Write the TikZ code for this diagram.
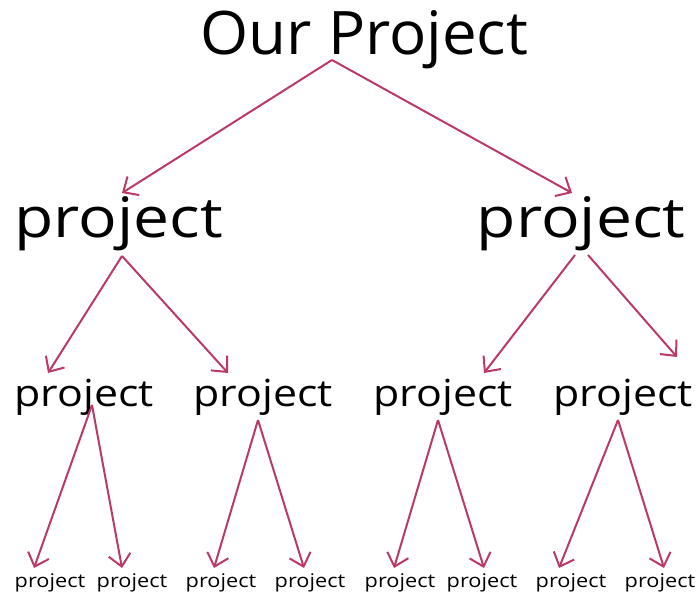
\documentclass[tikz,border=0pt]{standalone}
\usepackage{fontspec}
\setmainfont{Open Sans}[FakeStretch=1.15]
\newfontfamily\rootfont{Open Sans}[FakeStretch=1.03]
\usepackage{tikz}
\usetikzlibrary{arrows.meta}

\definecolor{arrowred}{RGB}{187,57,103}

\begin{document}
\begin{tikzpicture}[x=1pt, y=-1pt,
    arr/.style={draw=arrowred, line width=2pt, -{Straight Barb[length=12pt,width=22pt]}},
    every node/.style={anchor=base, inner sep=0pt}]
  \useasboundingbox (0,0) rectangle (699,593);
  % Nodes
  \node[font=\rootfont\fontsize{60}{66}\selectfont] (root) at (364.5,55) {Our Project};
  \node[font=\fontsize{55.8}{60}\selectfont] (pa) at (118.5,238) {project};
  \node[font=\fontsize{55.8}{60}\selectfont] (pb) at (581,238) {project};
  \node[font=\fontsize{37.3}{40}\selectfont] (paa) at (84,407) {project};
  \node[font=\fontsize{37.3}{40}\selectfont] (pab) at (263,407) {project};
  \node[font=\fontsize{37.3}{40}\selectfont] (pba) at (443,407) {project};
  \node[font=\fontsize{37.3}{40}\selectfont] (pbb) at (623,407) {project};
  \node[font=\fontsize{18.9}{20}\selectfont] (leafa) at (50,587) {project};
  \node[font=\fontsize{18.9}{20}\selectfont] (leafb) at (132,587) {project};
  \node[font=\fontsize{18.9}{20}\selectfont] (leafc) at (221,587) {project};
  \node[font=\fontsize{18.9}{20}\selectfont] (leafd) at (310,587) {project};
  \node[font=\fontsize{18.9}{20}\selectfont] (leafe) at (400,587) {project};
  \node[font=\fontsize{18.9}{20}\selectfont] (leaff) at (482,587) {project};
  \node[font=\fontsize{18.9}{20}\selectfont] (leafg) at (571,587) {project};
  \node[font=\fontsize{18.9}{20}\selectfont] (leafh) at (660,587) {project};

  % Arrows
  \draw[arr] ([xshift=-32.5pt,yshift=-5pt]root.base) -- ([xshift=3.5pt,yshift=45pt]pa.base);
  \draw[arr] ([xshift=-32.5pt,yshift=-5pt]root.base) -- ([xshift=-9pt,yshift=45pt]pb.base);
  \draw[arr] ([xshift=3.5pt,yshift=-18pt]pa.base) -- ([xshift=-36pt,yshift=34pt]paa.base);
  \draw[arr] ([xshift=3.5pt,yshift=-18pt]pa.base) -- ([xshift=-35pt,yshift=34pt]pab.base);
  \draw[arr] ([xshift=-6pt,yshift=-17pt]pb.base) -- ([xshift=41pt,yshift=34pt]pba.base);
  \draw[arr] ([xshift=7pt,yshift=-17pt]pb.base) -- ([xshift=54pt,yshift=50pt]pbb.base);
  \draw[arr] ([xshift=8pt,yshift=2pt]paa.base) -- ([xshift=-16pt,yshift=19pt]leafa.base);
  \draw[arr] ([xshift=8pt,yshift=2pt]paa.base) -- ([xshift=-10pt,yshift=19pt]leafb.base);
  \draw[arr] ([xshift=-5pt,yshift=-13pt]pab.base) -- ([xshift=-7pt,yshift=19pt]leafc.base);
  \draw[arr] ([xshift=-5pt,yshift=-13pt]pab.base) -- ([xshift=-6pt,yshift=19pt]leafd.base);
  \draw[arr] ([xshift=-5pt,yshift=-13pt]pba.base) -- ([xshift=-6pt,yshift=19pt]leafe.base);
  \draw[arr] ([xshift=-5pt,yshift=-13pt]pba.base) -- ([xshift=2pt,yshift=19pt]leaff.base);
  \draw[arr] ([xshift=-5pt,yshift=-13pt]pbb.base) -- ([xshift=-12pt,yshift=19pt]leafg.base);
  \draw[arr] ([xshift=-5pt,yshift=-13pt]pbb.base) -- ([xshift=4pt,yshift=19pt]leafh.base);
\end{tikzpicture}
\end{document}
